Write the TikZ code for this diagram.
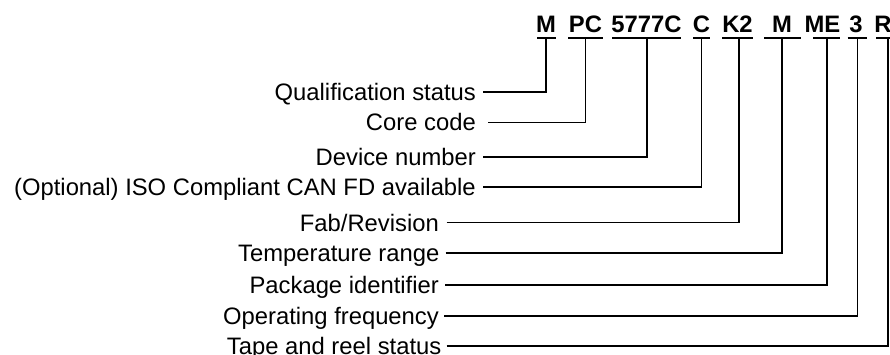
\documentclass[tikz,border=0pt]{standalone}
\usepackage{fontspec}
\setmainfont{Liberation Sans}
\begin{document}
\begin{tikzpicture}[x=1pt,y=-1pt,
  code/.style={font=\fontsize{23.8}{28}\selectfont\bfseries, inner sep=0pt, anchor=base},
  lbl/.style={font=\fontsize{23.8}{28}\selectfont, inner sep=0pt, anchor=base east},
  uline/.style={line width=1.7pt},
  conn/.style={line width=1.7pt}]
\useasboundingbox (0,0) rectangle (890,355);
% part-number codes
\node[code] (cM)  at (546,33)   {M};
\node[code] (cPC) at (585.5,33) {PC};
\node[code] (cDN) at (646.5,33) {5777C};
\node[code] (cC)  at (701.5,33) {C};
\node[code] (cK)  at (737.5,33) {K2};
\node[code] (cT)  at (782,33)   {M};
\node[code] (cME) at (822.5,33) {ME};
\node[code] (c3)  at (856,33)   {3};
\node[code] (cR)  at (883,33)   {R};
% underlines
\draw[uline] (537,38) -- (555.5,38);
\draw[uline] (568,38) -- (603,38);
\draw[uline] (612,38) -- (681,38);
\draw[uline] (693,38) -- (710,38);
\draw[uline] (722,38) -- (753,38);
\draw[uline] (764,38) -- (801,38);
\draw[uline] (813,38) -- (840,38);
\draw[uline] (847.5,38) -- (867,38);
\draw[uline] (876,38) -- (890,38);
% connector tops on the underlines
\coordinate (u1) at (546,38);
\coordinate (u2) at (585.5,38);
\coordinate (u3) at (647,38);
\coordinate (u4) at (701.5,38);
\coordinate (u5) at (739,38);
\coordinate (u6) at (782,38);
\coordinate (u7) at (827,38);
\coordinate (u8) at (857.5,38);
\coordinate (u9) at (888,38);
% connector starts beside the labels
\coordinate (s1) at (483,92.3);
\coordinate (s2) at (488,122.5);
\coordinate (s3) at (483,157.3);
\coordinate (s4) at (483,187.3);
\coordinate (s5) at (446.5,222.5);
\coordinate (s6) at (445.5,253.3);
\coordinate (s7) at (445,285);
\coordinate (s8) at (444,315.7);
\coordinate (s9) at (446.5,345.7);
% labels
\node[lbl] (l1) at ([xshift=-7pt,yshift=-8.5pt]s1) {Qualification status};
\node[lbl] (l2) at ([xshift=-12pt,yshift=-8.5pt]s2) {Core code};
\node[lbl] (l3) at ([xshift=-7pt,yshift=-8.5pt]s3) {Device number};
\node[lbl] (l4) at ([xshift=-7pt,yshift=-8.5pt]s4) {(Optional) ISO Compliant CAN FD available};
\node[lbl] (l5) at ([xshift=-7.5pt,yshift=-8.5pt]s5) {Fab/Revision};
\node[lbl] (l6) at ([xshift=-6pt,yshift=-8.5pt]s6) {Temperature range};
\node[lbl] (l7) at ([xshift=-6pt,yshift=-8.5pt]s7) {Package identifier};
\node[lbl] (l8) at ([xshift=-5pt,yshift=-8.5pt]s8) {Operating frequency};
\node[lbl] (l9) at ([xshift=-5pt,yshift=-8.5pt]s9) {Tape and reel status};
% connectors
\draw[conn] (s1) -| (u1);
\draw[conn] (s2) -| (u2);
\draw[conn] (s3) -| (u3);
\draw[conn] (s4) -| (u4);
\draw[conn] (s5) -| (u5);
\draw[conn] (s6) -| (u6);
\draw[conn] (s7) -| (u7);
\draw[conn] (s8) -| (u8);
\draw[conn] (s9) -| (u9);
\end{tikzpicture}
\end{document}
